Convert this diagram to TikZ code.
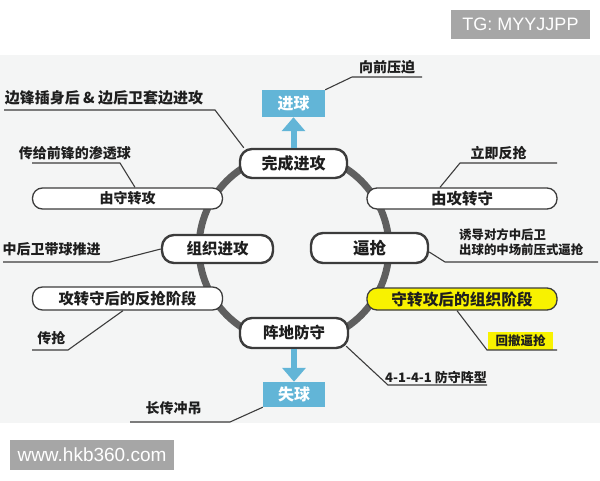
\documentclass[tikz,border=0pt]{standalone}
\usepackage{fontspec}
\newfontfamily\zhfont{Noto Sans CJK SC}
\newfontfamily\wmfont{Liberation Sans}
\usetikzlibrary{arrows.meta}
\definecolor{panelgray}{HTML}{F4F5F5}
\definecolor{ringgray}{HTML}{5F5F5F}
\definecolor{edgegray}{HTML}{3C3C3C}
\definecolor{ballblue}{HTML}{62B5D7}
\definecolor{hiyellow}{HTML}{F8F200}
\definecolor{markgray}{HTML}{A6A6A6}
\definecolor{inkblack}{HTML}{1E1E1E}
\newcommand{\zh}[1]{\zhfont\bfseries\fontsize{#1}{#1}\selectfont}

\tikzset{
  phasebox/.style={draw=edgegray, line width=2.4pt, fill=white, rounded corners=12pt,
    inner sep=0pt, minimum height=29pt, text=inkblack, font=\zh{15.5}},
  switchbox/.style={draw=edgegray, line width=1.3pt, fill=white, rounded corners=10pt,
    inner sep=0pt, minimum width=190pt, minimum height=21pt, text=inkblack, font=\zh{15.5}},
  resultbox/.style={fill=ballblue, text=white, inner sep=0pt, font=\zh{16}},
  notetext/.style={text=inkblack, inner sep=0pt, font=\zh{14}},
  link/.style={draw=edgegray, line width=1.1pt},
  gain/.style={draw=ballblue, line width=6pt, -{Triangle[width=23pt,length=14pt]}},
  wmbox/.style={fill=markgray, text=white, inner sep=0pt, font=\wmfont\fontsize{18}{18}\selectfont}
}

\begin{document}
\begin{tikzpicture}[x=1pt,y=-1pt]
  \useasboundingbox (0,0) rectangle (600,480);
  \fill[white] (0,0) rectangle (600,480);
  \fill[panelgray] (0,55) rectangle (600,423);

  % ring of phases
  \draw[ringgray, line width=7pt] (294,248) circle (95pt);

  \node[phasebox, minimum width=107pt, font=\zh{16}] (finish) at (293.5,163.5) {完成进攻};
  \node[phasebox, minimum width=111pt, minimum height=28pt] (build) at (217.5,249) {组织进攻};
  \node[phasebox, minimum width=117pt, minimum height=30pt, font=\zh{16.5}] (press) at (369.5,248) {逼抢};
  \node[phasebox, minimum width=108pt, minimum height=30pt] (settle) at (294,333) {阵地防守};

  \node[switchbox, font=\zh{14}] (toatk) at (127.5,198.5) {由守转攻};
  \node[switchbox] (todef) at (462,198.5) {由攻转守};
  \node[switchbox, minimum height=23pt, font=\zh{15.3}] (counter) at (127.5,298.5) {攻转守后的反抢阶段};
  \node[switchbox, fill=hiyellow, minimum height=22pt, font=\zh{15.7}] (organize) at (462,299) {守转攻后的组织阶段};

  \node[resultbox, minimum width=63pt, minimum height=27pt] (goal) at (293.5,103.5) {进球};
  \node[resultbox, minimum width=62pt, minimum height=25pt] (lost) at (294,394.5) {失球};

  \draw[gain] (finish) -- (goal);
  \draw[gain] (settle) -- (lost);

  % notes and their underlines
  \node[notetext] (n1) at (387,67) {向前压迫};
  \coordinate (n1a) at (352,77);
  \coordinate (n1b) at (422,77);
  \draw[link] (goal.north east) -- (n1a) -- (n1b);

  \node[notetext, font=\zh{15}] (n2) at (104,98) {边锋插身后 \& 边后卫套边进攻};
  \coordinate (n2a) at (215,110);
  \coordinate (n2b) at (4,110);
  \draw[link] ([xshift=5pt]finish.north west) -- (n2a) -- (n2b);

  \node[notetext] (n3) at (75,153) {传给前锋的渗透球};
  \coordinate (n3a) at (120,163);
  \coordinate (n3b) at (32,163);
  \draw[link] ([xshift=7.5pt]toatk.north) -- (n3a) -- (n3b);

  \node[notetext] (n4) at (498.5,153) {立即反抢};
  \coordinate (n4a) at (460,163);
  \coordinate (n4b) at (557,163);
  \draw[link] ([xshift=-22pt]todef.north) -- (n4a) -- (n4b);

  \node[notetext] (n5) at (51.5,249) {中后卫带球推进};
  \coordinate (n5a) at (110,262);
  \coordinate (n5b) at (3,262);
  \draw[link] (build.west) -- (n5a) -- (n5b);

  \node[notetext, anchor=west, align=left, font=\zhfont\bfseries\fontsize{12.4}{15}\selectfont]
    (n6) at (459,242.5) {诱导对方中后卫\\出球的中场前压式逼抢};
  \coordinate (n6a) at (445,262);
  \coordinate (n6b) at (598,262);
  \draw[link] ([yshift=-4pt]press.east) -- (n6a) -- (n6b);

  \node[notetext] (n7) at (51.5,338) {传抢};
  \coordinate (n7a) at (68,350);
  \coordinate (n7b) at (32,350);
  \draw[link] ([xshift=-4.5pt]counter.south) -- (n7a) -- (n7b);

  \node[notetext, fill=hiyellow, minimum width=65pt, minimum height=18pt, font=\zh{12.5}]
    (n8) at (520.5,341) {回撤逼抢};
  \coordinate (n8a) at (487,350);
  \coordinate (n8b) at (557,350);
  \draw[link] ([xshift=-5pt]organize.south) -- (n8a) -- (n8b);

  \node[notetext, font=\zh{13}] (n9) at (436,377) {4-1-4-1 防守阵型};
  \coordinate (n9a) at (388,385);
  \coordinate (n9b) at (487,385);
  \draw[link] ([xshift=-3pt,yshift=3pt]settle.south east) -- (n9a) -- (n9b);

  \node[notetext] (n10) at (173.5,408) {长传冲吊};
  \coordinate (n10a) at (230,422);
  \coordinate (n10b) at (130,422);
  \draw[link] (lost.south west) -- (n10a) -- (n10b);

  % watermarks
  \node[wmbox, minimum width=139pt, minimum height=29pt] (tg) at (520.5,24.5) {TG: MYYJJPP};
  \node[wmbox, minimum width=164pt, minimum height=30pt, font=\wmfont\fontsize{19}{19}\selectfont]
    (site) at (92,455) {www.hkb360.com};
\end{tikzpicture}
\end{document}
